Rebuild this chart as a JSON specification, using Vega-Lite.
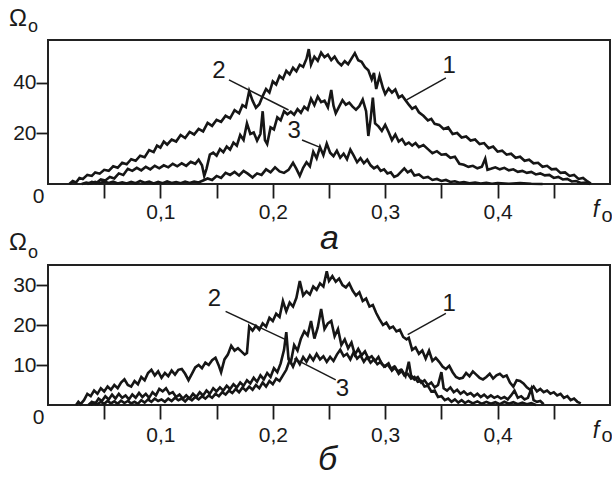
{
"$schema": "https://vega.github.io/schema/vega-lite/v6.json",
"padding": {"left": 8, "top": 6, "right": 0, "bottom": 0},
"spacing": 81,
"bounds": "flush",
"config": {
  "font": "Liberation Sans",
  "view": {"stroke": "#222222", "strokeWidth": 2},
  "axis": {"domain": false, "grid": false, "tickColor": "#1a1a1a", "tickWidth": 1.8, "labelColor": "#1a1a1a", "labelFont": "Liberation Sans", "labelFontSize": 21, "labelOverlap": false, "labelFlush": false, "titleColor": "#1a1a1a", "titleFont": "Liberation Sans"},
  "text": {"font": "Liberation Sans", "color": "#1a1a1a"}
},
"datasets": {
"a": [
{"c":1,"f":0.019,"v":0},{"c":1,"f":0.022,"v":1.2},{"c":1,"f":0.025,"v":0.6},{"c":1,"f":0.028,"v":2.4},{"c":1,"f":0.031,"v":2},{"c":1,"f":0.035,"v":3.6},{"c":1,"f":0.039,"v":3.2},{"c":1,"f":0.042,"v":4.6},{"c":1,"f":0.046,"v":4.1},{"c":1,"f":0.05,"v":5.6},{"c":1,"f":0.054,"v":5.2},{"c":1,"f":0.058,"v":7},{"c":1,"f":0.062,"v":6.4},{"c":1,"f":0.066,"v":8.4},{"c":1,"f":0.07,"v":7.8},{"c":1,"f":0.074,"v":9.8},{"c":1,"f":0.078,"v":9.2},{"c":1,"f":0.082,"v":11.2},{"c":1,"f":0.086,"v":10.6},{"c":1,"f":0.09,"v":13.4},{"c":1,"f":0.094,"v":12.6},{"c":1,"f":0.097,"v":15.2},{"c":1,"f":0.1,"v":14.4},{"c":1,"f":0.103,"v":16.8},{"c":1,"f":0.106,"v":15.6},{"c":1,"f":0.11,"v":17.6},{"c":1,"f":0.114,"v":16.8},{"c":1,"f":0.118,"v":19.4},{"c":1,"f":0.122,"v":18.2},{"c":1,"f":0.126,"v":20.6},{"c":1,"f":0.13,"v":19.6},{"c":1,"f":0.134,"v":21.8},{"c":1,"f":0.138,"v":20.8},{"c":1,"f":0.142,"v":24.2},{"c":1,"f":0.146,"v":23},{"c":1,"f":0.15,"v":25.4},{"c":1,"f":0.154,"v":24.6},{"c":1,"f":0.158,"v":27},{"c":1,"f":0.162,"v":26},{"c":1,"f":0.166,"v":29.2},{"c":1,"f":0.17,"v":28},{"c":1,"f":0.173,"v":31.2},{"c":1,"f":0.176,"v":30.4},{"c":1,"f":0.179,"v":36.8},{"c":1,"f":0.182,"v":33},{"c":1,"f":0.185,"v":30.2},{"c":1,"f":0.188,"v":31.6},{"c":1,"f":0.191,"v":34.8},{"c":1,"f":0.194,"v":37.6},{"c":1,"f":0.197,"v":36.2},{"c":1,"f":0.2,"v":40.6},{"c":1,"f":0.203,"v":39.4},{"c":1,"f":0.206,"v":42.8},{"c":1,"f":0.209,"v":41.6},{"c":1,"f":0.212,"v":44.8},{"c":1,"f":0.215,"v":43.4},{"c":1,"f":0.218,"v":46},{"c":1,"f":0.221,"v":44.6},{"c":1,"f":0.224,"v":47.2},{"c":1,"f":0.227,"v":46.4},{"c":1,"f":0.23,"v":49.6},{"c":1,"f":0.232,"v":53.4},{"c":1,"f":0.234,"v":47.2},{"c":1,"f":0.237,"v":50.4},{"c":1,"f":0.24,"v":48.8},{"c":1,"f":0.243,"v":52},{"c":1,"f":0.246,"v":50.2},{"c":1,"f":0.249,"v":51.2},{"c":1,"f":0.252,"v":49},{"c":1,"f":0.255,"v":50.4},{"c":1,"f":0.258,"v":48.2},{"c":1,"f":0.261,"v":47},{"c":1,"f":0.264,"v":48.6},{"c":1,"f":0.267,"v":47.4},{"c":1,"f":0.27,"v":49.6},{"c":1,"f":0.273,"v":51.8},{"c":1,"f":0.276,"v":49},{"c":1,"f":0.279,"v":48.4},{"c":1,"f":0.282,"v":46.2},{"c":1,"f":0.285,"v":45},{"c":1,"f":0.288,"v":41.4},{"c":1,"f":0.29,"v":44},{"c":1,"f":0.292,"v":37.6},{"c":1,"f":0.295,"v":42.8},{"c":1,"f":0.298,"v":38},{"c":1,"f":0.3,"v":35.6},{"c":1,"f":0.303,"v":37.8},{"c":1,"f":0.306,"v":36.2},{"c":1,"f":0.309,"v":37.4},{"c":1,"f":0.312,"v":34.2},{"c":1,"f":0.315,"v":35},{"c":1,"f":0.318,"v":33.2},{"c":1,"f":0.321,"v":31.4},{"c":1,"f":0.324,"v":29.8},{"c":1,"f":0.327,"v":30.6},{"c":1,"f":0.33,"v":28.4},{"c":1,"f":0.334,"v":27},{"c":1,"f":0.338,"v":25.2},{"c":1,"f":0.341,"v":25.8},{"c":1,"f":0.344,"v":23.8},{"c":1,"f":0.348,"v":23.4},{"c":1,"f":0.352,"v":21.8},{"c":1,"f":0.356,"v":22.4},{"c":1,"f":0.36,"v":19.8},{"c":1,"f":0.364,"v":20.2},{"c":1,"f":0.368,"v":18.4},{"c":1,"f":0.372,"v":18.8},{"c":1,"f":0.376,"v":17.2},{"c":1,"f":0.38,"v":17.6},{"c":1,"f":0.384,"v":15.8},{"c":1,"f":0.388,"v":16.2},{"c":1,"f":0.392,"v":14.2},{"c":1,"f":0.396,"v":14.8},{"c":1,"f":0.4,"v":12.8},{"c":1,"f":0.404,"v":13.2},{"c":1,"f":0.408,"v":11.6},{"c":1,"f":0.412,"v":12},{"c":1,"f":0.416,"v":10.4},{"c":1,"f":0.42,"v":10.8},{"c":1,"f":0.424,"v":9.2},{"c":1,"f":0.428,"v":9.6},{"c":1,"f":0.432,"v":8.2},{"c":1,"f":0.436,"v":8.4},{"c":1,"f":0.44,"v":6.8},{"c":1,"f":0.444,"v":7.2},{"c":1,"f":0.448,"v":5.8},{"c":1,"f":0.452,"v":6},{"c":1,"f":0.456,"v":4.4},{"c":1,"f":0.46,"v":4.6},{"c":1,"f":0.464,"v":3.2},{"c":1,"f":0.468,"v":3.6},{"c":1,"f":0.472,"v":2},{"c":1,"f":0.476,"v":2.4},{"c":1,"f":0.48,"v":1},{"c":1,"f":0.483,"v":0.2},
{"c":2,"f":0.035,"v":0},{"c":2,"f":0.039,"v":0.8},{"c":2,"f":0.043,"v":0.4},{"c":2,"f":0.047,"v":1.8},{"c":2,"f":0.051,"v":1.4},{"c":2,"f":0.055,"v":2.8},{"c":2,"f":0.059,"v":2.2},{"c":2,"f":0.063,"v":4.2},{"c":2,"f":0.067,"v":3.6},{"c":2,"f":0.071,"v":6},{"c":2,"f":0.075,"v":5.2},{"c":2,"f":0.079,"v":6.4},{"c":2,"f":0.083,"v":5.4},{"c":2,"f":0.087,"v":6.8},{"c":2,"f":0.091,"v":5.8},{"c":2,"f":0.095,"v":7.2},{"c":2,"f":0.099,"v":6.2},{"c":2,"f":0.103,"v":7.4},{"c":2,"f":0.107,"v":6.6},{"c":2,"f":0.111,"v":8},{"c":2,"f":0.115,"v":7},{"c":2,"f":0.119,"v":8.2},{"c":2,"f":0.123,"v":7.2},{"c":2,"f":0.127,"v":8.8},{"c":2,"f":0.131,"v":8},{"c":2,"f":0.134,"v":9.6},{"c":2,"f":0.137,"v":7.4},{"c":2,"f":0.139,"v":3.2},{"c":2,"f":0.141,"v":6},{"c":2,"f":0.144,"v":11.6},{"c":2,"f":0.147,"v":12.4},{"c":2,"f":0.15,"v":11.2},{"c":2,"f":0.153,"v":13.8},{"c":2,"f":0.156,"v":12.6},{"c":2,"f":0.159,"v":14.8},{"c":2,"f":0.162,"v":13.6},{"c":2,"f":0.165,"v":16.4},{"c":2,"f":0.168,"v":15.2},{"c":2,"f":0.171,"v":19.4},{"c":2,"f":0.174,"v":17.4},{"c":2,"f":0.177,"v":24},{"c":2,"f":0.18,"v":19.8},{"c":2,"f":0.183,"v":20.4},{"c":2,"f":0.186,"v":17.2},{"c":2,"f":0.189,"v":19.8},{"c":2,"f":0.191,"v":28.8},{"c":2,"f":0.193,"v":17.4},{"c":2,"f":0.195,"v":15.8},{"c":2,"f":0.198,"v":22.4},{"c":2,"f":0.201,"v":21.6},{"c":2,"f":0.204,"v":26.4},{"c":2,"f":0.207,"v":25.2},{"c":2,"f":0.21,"v":28.8},{"c":2,"f":0.213,"v":27.6},{"c":2,"f":0.216,"v":28.6},{"c":2,"f":0.219,"v":27.4},{"c":2,"f":0.222,"v":29.6},{"c":2,"f":0.225,"v":28.2},{"c":2,"f":0.228,"v":30.6},{"c":2,"f":0.231,"v":29.4},{"c":2,"f":0.234,"v":33.8},{"c":2,"f":0.237,"v":31.2},{"c":2,"f":0.24,"v":34.6},{"c":2,"f":0.243,"v":32.4},{"c":2,"f":0.246,"v":33},{"c":2,"f":0.249,"v":30.4},{"c":2,"f":0.252,"v":37.2},{"c":2,"f":0.254,"v":31},{"c":2,"f":0.256,"v":28},{"c":2,"f":0.259,"v":30.6},{"c":2,"f":0.262,"v":33.2},{"c":2,"f":0.265,"v":31.4},{"c":2,"f":0.268,"v":32.2},{"c":2,"f":0.271,"v":30.6},{"c":2,"f":0.274,"v":29.4},{"c":2,"f":0.277,"v":30.8},{"c":2,"f":0.28,"v":33.4},{"c":2,"f":0.283,"v":28.8},{"c":2,"f":0.285,"v":19},{"c":2,"f":0.287,"v":25.6},{"c":2,"f":0.289,"v":34.2},{"c":2,"f":0.291,"v":24},{"c":2,"f":0.294,"v":22.8},{"c":2,"f":0.297,"v":21},{"c":2,"f":0.3,"v":23.4},{"c":2,"f":0.303,"v":20.6},{"c":2,"f":0.306,"v":17.4},{"c":2,"f":0.309,"v":19.6},{"c":2,"f":0.312,"v":16.8},{"c":2,"f":0.315,"v":17.8},{"c":2,"f":0.318,"v":15.6},{"c":2,"f":0.321,"v":16.4},{"c":2,"f":0.324,"v":15.2},{"c":2,"f":0.327,"v":16.2},{"c":2,"f":0.33,"v":14.6},{"c":2,"f":0.334,"v":15.4},{"c":2,"f":0.338,"v":13.8},{"c":2,"f":0.342,"v":12.2},{"c":2,"f":0.346,"v":13},{"c":2,"f":0.35,"v":11.6},{"c":2,"f":0.354,"v":11.8},{"c":2,"f":0.358,"v":10.4},{"c":2,"f":0.362,"v":10.8},{"c":2,"f":0.366,"v":8},{"c":2,"f":0.37,"v":7.6},{"c":2,"f":0.374,"v":6.8},{"c":2,"f":0.378,"v":7.2},{"c":2,"f":0.382,"v":6.2},{"c":2,"f":0.386,"v":6.8},{"c":2,"f":0.389,"v":10},{"c":2,"f":0.391,"v":5.6},{"c":2,"f":0.394,"v":6},{"c":2,"f":0.398,"v":6.6},{"c":2,"f":0.402,"v":5.8},{"c":2,"f":0.406,"v":6.4},{"c":2,"f":0.41,"v":5.4},{"c":2,"f":0.414,"v":5.8},{"c":2,"f":0.418,"v":4.8},{"c":2,"f":0.422,"v":5.2},{"c":2,"f":0.426,"v":4.4},{"c":2,"f":0.43,"v":4.8},{"c":2,"f":0.434,"v":3.8},{"c":2,"f":0.438,"v":4.2},{"c":2,"f":0.442,"v":3.4},{"c":2,"f":0.446,"v":3.6},{"c":2,"f":0.45,"v":2.4},{"c":2,"f":0.454,"v":2.8},{"c":2,"f":0.458,"v":1.8},{"c":2,"f":0.462,"v":2},{"c":2,"f":0.466,"v":1},{"c":2,"f":0.47,"v":1.2},{"c":2,"f":0.474,"v":0.4},{"c":2,"f":0.478,"v":0.6},{"c":2,"f":0.482,"v":0},
{"c":3,"f":0.03,"v":0},{"c":3,"f":0.034,"v":0.6},{"c":3,"f":0.038,"v":0.2},{"c":3,"f":0.042,"v":0.8},{"c":3,"f":0.046,"v":0.3},{"c":3,"f":0.05,"v":1},{"c":3,"f":0.054,"v":0.4},{"c":3,"f":0.058,"v":0.9},{"c":3,"f":0.062,"v":0.2},{"c":3,"f":0.066,"v":0.7},{"c":3,"f":0.07,"v":0.2},{"c":3,"f":0.074,"v":0.8},{"c":3,"f":0.078,"v":0.3},{"c":3,"f":0.082,"v":1.2},{"c":3,"f":0.086,"v":0.5},{"c":3,"f":0.09,"v":0.9},{"c":3,"f":0.094,"v":0.2},{"c":3,"f":0.098,"v":0.8},{"c":3,"f":0.102,"v":0.3},{"c":3,"f":0.106,"v":1},{"c":3,"f":0.11,"v":0.4},{"c":3,"f":0.114,"v":0.8},{"c":3,"f":0.118,"v":0.3},{"c":3,"f":0.122,"v":0.9},{"c":3,"f":0.126,"v":0.4},{"c":3,"f":0.13,"v":1},{"c":3,"f":0.134,"v":0.6},{"c":3,"f":0.138,"v":1.4},{"c":3,"f":0.142,"v":2.2},{"c":3,"f":0.146,"v":1.6},{"c":3,"f":0.15,"v":3.2},{"c":3,"f":0.154,"v":2.4},{"c":3,"f":0.158,"v":4.4},{"c":3,"f":0.162,"v":3.6},{"c":3,"f":0.166,"v":4.8},{"c":3,"f":0.17,"v":3.4},{"c":3,"f":0.174,"v":5.2},{"c":3,"f":0.178,"v":4},{"c":3,"f":0.182,"v":2.6},{"c":3,"f":0.186,"v":4.2},{"c":3,"f":0.19,"v":3.6},{"c":3,"f":0.194,"v":5.8},{"c":3,"f":0.198,"v":4.6},{"c":3,"f":0.202,"v":6.6},{"c":3,"f":0.206,"v":5},{"c":3,"f":0.21,"v":4.4},{"c":3,"f":0.214,"v":5.6},{"c":3,"f":0.218,"v":8.4},{"c":3,"f":0.221,"v":6},{"c":3,"f":0.224,"v":3.2},{"c":3,"f":0.227,"v":6.4},{"c":3,"f":0.23,"v":8.6},{"c":3,"f":0.233,"v":7},{"c":3,"f":0.236,"v":12.8},{"c":3,"f":0.239,"v":10.2},{"c":3,"f":0.242,"v":14.6},{"c":3,"f":0.245,"v":11.4},{"c":3,"f":0.248,"v":16},{"c":3,"f":0.251,"v":12.4},{"c":3,"f":0.254,"v":11},{"c":3,"f":0.257,"v":13.2},{"c":3,"f":0.26,"v":10.4},{"c":3,"f":0.263,"v":12},{"c":3,"f":0.266,"v":9.8},{"c":3,"f":0.269,"v":13.6},{"c":3,"f":0.272,"v":11.2},{"c":3,"f":0.275,"v":8.6},{"c":3,"f":0.278,"v":10.2},{"c":3,"f":0.281,"v":8.2},{"c":3,"f":0.284,"v":9.6},{"c":3,"f":0.287,"v":7.4},{"c":3,"f":0.29,"v":6.2},{"c":3,"f":0.293,"v":7},{"c":3,"f":0.296,"v":5.2},{"c":3,"f":0.299,"v":5.8},{"c":3,"f":0.302,"v":4.2},{"c":3,"f":0.305,"v":4.6},{"c":3,"f":0.308,"v":2.8},{"c":3,"f":0.311,"v":3.4},{"c":3,"f":0.314,"v":4.8},{"c":3,"f":0.317,"v":6.2},{"c":3,"f":0.32,"v":4.6},{"c":3,"f":0.323,"v":5.4},{"c":3,"f":0.326,"v":3.4},{"c":3,"f":0.33,"v":3.8},{"c":3,"f":0.334,"v":2.4},{"c":3,"f":0.338,"v":2.8},{"c":3,"f":0.342,"v":1.6},{"c":3,"f":0.346,"v":2},{"c":3,"f":0.35,"v":1.2},{"c":3,"f":0.354,"v":1.6},{"c":3,"f":0.358,"v":0.8},{"c":3,"f":0.362,"v":1.1},{"c":3,"f":0.366,"v":0.5},{"c":3,"f":0.37,"v":0.8},{"c":3,"f":0.375,"v":0.3},{"c":3,"f":0.38,"v":0.6},{"c":3,"f":0.385,"v":0.2},{"c":3,"f":0.39,"v":0.5},{"c":3,"f":0.395,"v":0.1},{"c":3,"f":0.4,"v":0.4},{"c":3,"f":0.41,"v":0.1},{"c":3,"f":0.42,"v":0.4},{"c":3,"f":0.43,"v":0.1},{"c":3,"f":0.44,"v":0}
],
"b": [
{"c":1,"f":0.025,"v":0},{"c":1,"f":0.027,"v":0.8},{"c":1,"f":0.029,"v":0.2},{"c":1,"f":0.032,"v":1.2},{"c":1,"f":0.035,"v":2.8},{"c":1,"f":0.038,"v":2.2},{"c":1,"f":0.041,"v":3.6},{"c":1,"f":0.044,"v":2.8},{"c":1,"f":0.047,"v":4.2},{"c":1,"f":0.05,"v":3.4},{"c":1,"f":0.053,"v":4.6},{"c":1,"f":0.056,"v":3.8},{"c":1,"f":0.059,"v":5},{"c":1,"f":0.062,"v":4.2},{"c":1,"f":0.065,"v":5.6},{"c":1,"f":0.068,"v":6.4},{"c":1,"f":0.071,"v":5},{"c":1,"f":0.074,"v":4.6},{"c":1,"f":0.077,"v":6},{"c":1,"f":0.08,"v":5.2},{"c":1,"f":0.083,"v":7},{"c":1,"f":0.086,"v":6.2},{"c":1,"f":0.089,"v":8},{"c":1,"f":0.092,"v":8.8},{"c":1,"f":0.095,"v":7.4},{"c":1,"f":0.098,"v":8.4},{"c":1,"f":0.101,"v":6.8},{"c":1,"f":0.104,"v":8},{"c":1,"f":0.107,"v":7.2},{"c":1,"f":0.11,"v":8.6},{"c":1,"f":0.113,"v":7.6},{"c":1,"f":0.116,"v":8.8},{"c":1,"f":0.119,"v":9},{"c":1,"f":0.122,"v":7.8},{"c":1,"f":0.125,"v":6.2},{"c":1,"f":0.128,"v":7.8},{"c":1,"f":0.131,"v":9.4},{"c":1,"f":0.134,"v":10},{"c":1,"f":0.137,"v":9.2},{"c":1,"f":0.14,"v":10.6},{"c":1,"f":0.143,"v":10},{"c":1,"f":0.146,"v":11.2},{"c":1,"f":0.149,"v":11.8},{"c":1,"f":0.152,"v":9.8},{"c":1,"f":0.154,"v":8.2},{"c":1,"f":0.157,"v":11.4},{"c":1,"f":0.16,"v":12.6},{"c":1,"f":0.163,"v":14.8},{"c":1,"f":0.166,"v":13.6},{"c":1,"f":0.169,"v":14.2},{"c":1,"f":0.172,"v":13.4},{"c":1,"f":0.175,"v":12.6},{"c":1,"f":0.177,"v":13},{"c":1,"f":0.179,"v":19.6},{"c":1,"f":0.182,"v":18.6},{"c":1,"f":0.185,"v":19.8},{"c":1,"f":0.188,"v":18.8},{"c":1,"f":0.191,"v":20.4},{"c":1,"f":0.194,"v":19.6},{"c":1,"f":0.197,"v":21.8},{"c":1,"f":0.2,"v":21},{"c":1,"f":0.203,"v":22.8},{"c":1,"f":0.206,"v":22},{"c":1,"f":0.209,"v":26},{"c":1,"f":0.212,"v":23.4},{"c":1,"f":0.215,"v":25.6},{"c":1,"f":0.218,"v":24.6},{"c":1,"f":0.221,"v":26.8},{"c":1,"f":0.224,"v":31},{"c":1,"f":0.227,"v":27.4},{"c":1,"f":0.23,"v":28.4},{"c":1,"f":0.233,"v":27.6},{"c":1,"f":0.236,"v":29.6},{"c":1,"f":0.239,"v":28.8},{"c":1,"f":0.242,"v":30.4},{"c":1,"f":0.245,"v":29.6},{"c":1,"f":0.248,"v":33.4},{"c":1,"f":0.25,"v":31},{"c":1,"f":0.253,"v":32.2},{"c":1,"f":0.256,"v":30.8},{"c":1,"f":0.259,"v":31.6},{"c":1,"f":0.262,"v":30},{"c":1,"f":0.265,"v":29.4},{"c":1,"f":0.268,"v":30.4},{"c":1,"f":0.271,"v":28.6},{"c":1,"f":0.274,"v":27.4},{"c":1,"f":0.277,"v":28.2},{"c":1,"f":0.28,"v":26},{"c":1,"f":0.283,"v":26.6},{"c":1,"f":0.286,"v":24.6},{"c":1,"f":0.289,"v":25},{"c":1,"f":0.292,"v":23},{"c":1,"f":0.295,"v":21.4},{"c":1,"f":0.298,"v":20},{"c":1,"f":0.301,"v":20.6},{"c":1,"f":0.304,"v":19.2},{"c":1,"f":0.307,"v":19.6},{"c":1,"f":0.31,"v":18.4},{"c":1,"f":0.313,"v":18.8},{"c":1,"f":0.316,"v":17},{"c":1,"f":0.319,"v":16.4},{"c":1,"f":0.321,"v":16.8},{"c":1,"f":0.324,"v":13.8},{"c":1,"f":0.327,"v":14.4},{"c":1,"f":0.33,"v":12.8},{"c":1,"f":0.333,"v":13.6},{"c":1,"f":0.336,"v":11.6},{"c":1,"f":0.339,"v":13.6},{"c":1,"f":0.342,"v":11},{"c":1,"f":0.345,"v":11.8},{"c":1,"f":0.348,"v":10.8},{"c":1,"f":0.351,"v":9.6},{"c":1,"f":0.354,"v":9},{"c":1,"f":0.357,"v":9.8},{"c":1,"f":0.36,"v":8.2},{"c":1,"f":0.363,"v":7},{"c":1,"f":0.366,"v":6.6},{"c":1,"f":0.369,"v":6.8},{"c":1,"f":0.372,"v":8},{"c":1,"f":0.375,"v":7.2},{"c":1,"f":0.378,"v":8.4},{"c":1,"f":0.381,"v":7.6},{"c":1,"f":0.384,"v":6.8},{"c":1,"f":0.387,"v":6.4},{"c":1,"f":0.39,"v":7},{"c":1,"f":0.393,"v":7.8},{"c":1,"f":0.396,"v":6.6},{"c":1,"f":0.399,"v":7.4},{"c":1,"f":0.402,"v":7.8},{"c":1,"f":0.405,"v":7},{"c":1,"f":0.408,"v":7.4},{"c":1,"f":0.411,"v":5.6},{"c":1,"f":0.414,"v":4.6},{"c":1,"f":0.417,"v":6.2},{"c":1,"f":0.42,"v":6},{"c":1,"f":0.423,"v":5.4},{"c":1,"f":0.426,"v":4.4},{"c":1,"f":0.429,"v":3.8},{"c":1,"f":0.432,"v":4.6},{"c":1,"f":0.435,"v":3.4},{"c":1,"f":0.438,"v":4},{"c":1,"f":0.441,"v":3.2},{"c":1,"f":0.444,"v":3.6},{"c":1,"f":0.447,"v":2.8},{"c":1,"f":0.45,"v":3.2},{"c":1,"f":0.453,"v":2.4},{"c":1,"f":0.456,"v":2.8},{"c":1,"f":0.459,"v":1.8},{"c":1,"f":0.462,"v":2.2},{"c":1,"f":0.465,"v":1.2},{"c":1,"f":0.468,"v":1.6},{"c":1,"f":0.471,"v":0.8},{"c":1,"f":0.474,"v":0.4},
{"c":2,"f":0.036,"v":0},{"c":2,"f":0.039,"v":0.8},{"c":2,"f":0.042,"v":0.3},{"c":2,"f":0.045,"v":1.6},{"c":2,"f":0.048,"v":1},{"c":2,"f":0.051,"v":2.2},{"c":2,"f":0.054,"v":1.4},{"c":2,"f":0.057,"v":2.6},{"c":2,"f":0.06,"v":1.6},{"c":2,"f":0.063,"v":2.8},{"c":2,"f":0.066,"v":1.8},{"c":2,"f":0.069,"v":2.4},{"c":2,"f":0.072,"v":1.4},{"c":2,"f":0.075,"v":2.6},{"c":2,"f":0.078,"v":1.8},{"c":2,"f":0.081,"v":3},{"c":2,"f":0.084,"v":2},{"c":2,"f":0.087,"v":2.8},{"c":2,"f":0.09,"v":1.8},{"c":2,"f":0.093,"v":3.2},{"c":2,"f":0.096,"v":2.4},{"c":2,"f":0.099,"v":4},{"c":2,"f":0.102,"v":3.4},{"c":2,"f":0.105,"v":4.2},{"c":2,"f":0.108,"v":2.8},{"c":2,"f":0.111,"v":3.2},{"c":2,"f":0.114,"v":2},{"c":2,"f":0.117,"v":2.6},{"c":2,"f":0.12,"v":1.6},{"c":2,"f":0.123,"v":2.4},{"c":2,"f":0.126,"v":1.6},{"c":2,"f":0.129,"v":2.8},{"c":2,"f":0.132,"v":2},{"c":2,"f":0.135,"v":3.2},{"c":2,"f":0.138,"v":2.4},{"c":2,"f":0.141,"v":3.6},{"c":2,"f":0.144,"v":2.8},{"c":2,"f":0.147,"v":4.2},{"c":2,"f":0.15,"v":3.4},{"c":2,"f":0.153,"v":4.4},{"c":2,"f":0.156,"v":3.6},{"c":2,"f":0.159,"v":4.8},{"c":2,"f":0.162,"v":4},{"c":2,"f":0.165,"v":5.2},{"c":2,"f":0.168,"v":4.4},{"c":2,"f":0.171,"v":5.6},{"c":2,"f":0.174,"v":4.8},{"c":2,"f":0.177,"v":6.2},{"c":2,"f":0.18,"v":5.4},{"c":2,"f":0.183,"v":6.8},{"c":2,"f":0.186,"v":5.8},{"c":2,"f":0.189,"v":7.4},{"c":2,"f":0.192,"v":6.4},{"c":2,"f":0.195,"v":8},{"c":2,"f":0.198,"v":7},{"c":2,"f":0.201,"v":9.2},{"c":2,"f":0.204,"v":8.2},{"c":2,"f":0.207,"v":10.4},{"c":2,"f":0.21,"v":13.8},{"c":2,"f":0.212,"v":18.2},{"c":2,"f":0.214,"v":11.4},{"c":2,"f":0.216,"v":10.6},{"c":2,"f":0.219,"v":15},{"c":2,"f":0.222,"v":13.6},{"c":2,"f":0.225,"v":16.6},{"c":2,"f":0.228,"v":18.4},{"c":2,"f":0.231,"v":17.4},{"c":2,"f":0.234,"v":21},{"c":2,"f":0.237,"v":16.6},{"c":2,"f":0.24,"v":19.4},{"c":2,"f":0.243,"v":24},{"c":2,"f":0.246,"v":19},{"c":2,"f":0.249,"v":20.4},{"c":2,"f":0.252,"v":21},{"c":2,"f":0.255,"v":17.2},{"c":2,"f":0.258,"v":19},{"c":2,"f":0.261,"v":15},{"c":2,"f":0.264,"v":16.4},{"c":2,"f":0.267,"v":14.2},{"c":2,"f":0.27,"v":15.6},{"c":2,"f":0.273,"v":12.6},{"c":2,"f":0.276,"v":14},{"c":2,"f":0.279,"v":12.4},{"c":2,"f":0.282,"v":13.4},{"c":2,"f":0.285,"v":11.6},{"c":2,"f":0.288,"v":12.2},{"c":2,"f":0.291,"v":11},{"c":2,"f":0.294,"v":12},{"c":2,"f":0.297,"v":10.2},{"c":2,"f":0.3,"v":9.6},{"c":2,"f":0.303,"v":10.4},{"c":2,"f":0.306,"v":8.6},{"c":2,"f":0.309,"v":9.4},{"c":2,"f":0.312,"v":7.8},{"c":2,"f":0.315,"v":8.6},{"c":2,"f":0.318,"v":7.2},{"c":2,"f":0.321,"v":10.8},{"c":2,"f":0.323,"v":7.4},{"c":2,"f":0.326,"v":6.4},{"c":2,"f":0.329,"v":7},{"c":2,"f":0.332,"v":5.6},{"c":2,"f":0.335,"v":6.2},{"c":2,"f":0.338,"v":5},{"c":2,"f":0.341,"v":5.6},{"c":2,"f":0.344,"v":4.4},{"c":2,"f":0.347,"v":5},{"c":2,"f":0.35,"v":8.2},{"c":2,"f":0.352,"v":4.2},{"c":2,"f":0.355,"v":3.6},{"c":2,"f":0.358,"v":4.4},{"c":2,"f":0.361,"v":3.2},{"c":2,"f":0.364,"v":3.8},{"c":2,"f":0.367,"v":2.8},{"c":2,"f":0.37,"v":3.4},{"c":2,"f":0.373,"v":2.6},{"c":2,"f":0.376,"v":3},{"c":2,"f":0.379,"v":2.2},{"c":2,"f":0.382,"v":2.8},{"c":2,"f":0.385,"v":2},{"c":2,"f":0.388,"v":2.6},{"c":2,"f":0.391,"v":1.8},{"c":2,"f":0.394,"v":2.4},{"c":2,"f":0.397,"v":1.8},{"c":2,"f":0.4,"v":2.2},{"c":2,"f":0.403,"v":1.6},{"c":2,"f":0.406,"v":2},{"c":2,"f":0.409,"v":1.4},{"c":2,"f":0.412,"v":2.4},{"c":2,"f":0.415,"v":3.6},{"c":2,"f":0.418,"v":1.8},{"c":2,"f":0.421,"v":2.2},{"c":2,"f":0.424,"v":1.4},{"c":2,"f":0.427,"v":1.8},{"c":2,"f":0.43,"v":4},{"c":2,"f":0.432,"v":1.2},{"c":2,"f":0.435,"v":0.8},{"c":2,"f":0.438,"v":1},{"c":2,"f":0.441,"v":0.2},
{"c":3,"f":0.038,"v":0},{"c":3,"f":0.041,"v":0.6},{"c":3,"f":0.044,"v":0.2},{"c":3,"f":0.047,"v":0.8},{"c":3,"f":0.05,"v":0.3},{"c":3,"f":0.053,"v":1},{"c":3,"f":0.056,"v":0.4},{"c":3,"f":0.059,"v":0.9},{"c":3,"f":0.062,"v":0.3},{"c":3,"f":0.065,"v":1.1},{"c":3,"f":0.068,"v":0.5},{"c":3,"f":0.071,"v":1},{"c":3,"f":0.074,"v":0.4},{"c":3,"f":0.077,"v":0.8},{"c":3,"f":0.08,"v":0.3},{"c":3,"f":0.083,"v":1.2},{"c":3,"f":0.086,"v":0.6},{"c":3,"f":0.089,"v":1.4},{"c":3,"f":0.092,"v":0.8},{"c":3,"f":0.095,"v":1.6},{"c":3,"f":0.098,"v":1},{"c":3,"f":0.101,"v":1.4},{"c":3,"f":0.104,"v":0.8},{"c":3,"f":0.107,"v":1.6},{"c":3,"f":0.11,"v":1},{"c":3,"f":0.113,"v":1.8},{"c":3,"f":0.116,"v":1.2},{"c":3,"f":0.119,"v":1.6},{"c":3,"f":0.122,"v":0.9},{"c":3,"f":0.125,"v":1.8},{"c":3,"f":0.128,"v":1.2},{"c":3,"f":0.131,"v":2},{"c":3,"f":0.134,"v":1.4},{"c":3,"f":0.137,"v":2.2},{"c":3,"f":0.14,"v":1.6},{"c":3,"f":0.143,"v":2.4},{"c":3,"f":0.146,"v":1.8},{"c":3,"f":0.149,"v":2.8},{"c":3,"f":0.152,"v":2.2},{"c":3,"f":0.155,"v":3.2},{"c":3,"f":0.158,"v":2.6},{"c":3,"f":0.161,"v":3.6},{"c":3,"f":0.164,"v":3},{"c":3,"f":0.167,"v":4},{"c":3,"f":0.17,"v":3.2},{"c":3,"f":0.173,"v":4.4},{"c":3,"f":0.176,"v":3.6},{"c":3,"f":0.179,"v":4.6},{"c":3,"f":0.182,"v":3.8},{"c":3,"f":0.185,"v":5},{"c":3,"f":0.188,"v":4.2},{"c":3,"f":0.191,"v":5.6},{"c":3,"f":0.194,"v":4.6},{"c":3,"f":0.197,"v":6},{"c":3,"f":0.2,"v":5.2},{"c":3,"f":0.203,"v":6.6},{"c":3,"f":0.206,"v":6},{"c":3,"f":0.209,"v":7.4},{"c":3,"f":0.212,"v":8.8},{"c":3,"f":0.215,"v":11.2},{"c":3,"f":0.218,"v":9.6},{"c":3,"f":0.221,"v":11.6},{"c":3,"f":0.224,"v":10.2},{"c":3,"f":0.227,"v":12},{"c":3,"f":0.23,"v":10.8},{"c":3,"f":0.233,"v":12.4},{"c":3,"f":0.236,"v":11.2},{"c":3,"f":0.239,"v":12.8},{"c":3,"f":0.242,"v":11.4},{"c":3,"f":0.245,"v":12.2},{"c":3,"f":0.248,"v":10.8},{"c":3,"f":0.251,"v":12},{"c":3,"f":0.254,"v":11},{"c":3,"f":0.257,"v":12.6},{"c":3,"f":0.26,"v":13.8},{"c":3,"f":0.263,"v":12.2},{"c":3,"f":0.266,"v":12.8},{"c":3,"f":0.269,"v":11.4},{"c":3,"f":0.272,"v":13.2},{"c":3,"f":0.275,"v":11.6},{"c":3,"f":0.278,"v":12.4},{"c":3,"f":0.281,"v":10.8},{"c":3,"f":0.284,"v":12},{"c":3,"f":0.287,"v":10.6},{"c":3,"f":0.29,"v":11.4},{"c":3,"f":0.293,"v":10.2},{"c":3,"f":0.296,"v":10.8},{"c":3,"f":0.299,"v":9.6},{"c":3,"f":0.302,"v":10.2},{"c":3,"f":0.305,"v":9},{"c":3,"f":0.308,"v":9.6},{"c":3,"f":0.311,"v":8.4},{"c":3,"f":0.314,"v":8.8},{"c":3,"f":0.317,"v":7.4},{"c":3,"f":0.32,"v":7.8},{"c":3,"f":0.323,"v":6.6},{"c":3,"f":0.326,"v":7},{"c":3,"f":0.329,"v":5.8},{"c":3,"f":0.332,"v":6},{"c":3,"f":0.335,"v":4.6},{"c":3,"f":0.338,"v":4.8},{"c":3,"f":0.341,"v":3.4},{"c":3,"f":0.344,"v":3.6},{"c":3,"f":0.347,"v":2},{"c":3,"f":0.35,"v":2.2},{"c":3,"f":0.353,"v":1.2},{"c":3,"f":0.356,"v":1.6},{"c":3,"f":0.359,"v":0.8},{"c":3,"f":0.362,"v":1.4},{"c":3,"f":0.365,"v":0.6},{"c":3,"f":0.368,"v":1.2},{"c":3,"f":0.371,"v":0.5},{"c":3,"f":0.374,"v":1},{"c":3,"f":0.378,"v":0.4},{"c":3,"f":0.382,"v":0.9},{"c":3,"f":0.386,"v":0.3},{"c":3,"f":0.39,"v":0.8},{"c":3,"f":0.394,"v":0.3},{"c":3,"f":0.398,"v":0.7},{"c":3,"f":0.402,"v":0.2},{"c":3,"f":0.406,"v":0.8},{"c":3,"f":0.41,"v":0.3},{"c":3,"f":0.414,"v":0.7},{"c":3,"f":0.418,"v":0.2},{"c":3,"f":0.422,"v":0.6},{"c":3,"f":0.426,"v":0.2},{"c":3,"f":0.43,"v":0.5},{"c":3,"f":0.434,"v":0}
],
"leadA": [{"f":0.161,"v":41.2,"f2":0.214,"v2":29.3},{"f":0.226,"v":17.4,"f2":0.241,"v2":14.7},{"f":0.354,"v":42,"f2":0.319,"v2":33.3}],
"labA": [{"t":"1","f":0.357,"v":46.7},{"t":"2","f":0.152,"v":44.8},{"t":"3","f":0.219,"v":21}],
"leadB": [{"f":0.158,"v":23.4,"f2":0.211,"v2":16.4},{"f":0.256,"v":6.3,"f2":0.219,"v2":11.6},{"f":0.354,"v":22.9,"f2":0.32,"v2":17.6}],
"labB": [{"t":"1","f":0.357,"v":25.2},{"t":"2","f":0.148,"v":26.4},{"t":"3","f":0.262,"v":3.9}]
},
"vconcat": [
{
 "width": 562, "height": 144,
 "layer": [
  {"data": {"name": "a"}, "mark": {"type": "line", "color": "#161616", "strokeWidth": 2.6},
   "encoding": {
    "x": {"field": "f", "type": "quantitative", "scale": {"domain": [0, 0.5], "nice": false, "zero": false},
      "axis": {"values": [0.05,0.1,0.15,0.2,0.25,0.3,0.35,0.4,0.45], "labelExpr": "round(datum.value*20)%2==0 ? replace(format(datum.value,'.1f'),'.',',') : ''", "tickSize": 14, "labelPadding": 3, "title": "а", "titleFontStyle": "italic", "titleFontWeight": "normal", "titleFontSize": 34, "titleX": 281, "titleY": 64, "titleBaseline": "alphabetic", "titleAlign": "center"}},
    "y": {"field": "v", "type": "quantitative", "scale": {"domain": [0, 57], "nice": false},
      "axis": {"values": [0,10,20,30,40,50], "labelExpr": "datum.value%20==0 ? datum.label : ''", "title": null, "tickSize": 12,
        "labelPadding": {"condition": {"test": "datum.value===0", "value": -8}, "value": 0},
        "labelOffset": {"condition": {"test": "datum.value===0", "value": 12}, "value": 0},
        "tickOpacity": {"condition": {"test": "datum.value===0", "value": 0}, "value": 1}}},
    "detail": {"field": "c"}
   }},
  {"data": {"name": "leadA"}, "mark": {"type": "rule", "color": "#1a1a1a", "strokeWidth": 1.5},
   "encoding": {"x": {"field": "f", "type": "quantitative"}, "y": {"field": "v", "type": "quantitative"}, "x2": {"field": "f2"}, "y2": {"field": "v2"}}},
  {"data": {"name": "labA"}, "mark": {"type": "text", "fontSize": 24, "align": "center", "baseline": "middle"},
   "encoding": {"x": {"field": "f", "type": "quantitative"}, "y": {"field": "v", "type": "quantitative"}, "text": {"field": "t"}}},
  {"data": {"values": [{"f": 0.5, "v": 0, "t": "f"}]}, "mark": {"type": "text", "fontSize": 23, "fontStyle": "italic", "align": "center", "baseline": "alphabetic", "dx": -14, "dy": 33},
   "encoding": {"x": {"field": "f", "type": "quantitative"}, "y": {"field": "v", "type": "quantitative"}, "text": {"field": "t"}}},
  {"data": {"values": [{"f": 0.5, "v": 0, "t": "o"}]}, "mark": {"type": "text", "fontSize": 20, "align": "center", "baseline": "alphabetic", "dx": -3, "dy": 38},
   "encoding": {"x": {"field": "f", "type": "quantitative"}, "y": {"field": "v", "type": "quantitative"}, "text": {"field": "t"}}},
  {"data": {"values": [{"f": 0, "v": 57, "t": "Ω"}]}, "mark": {"type": "text", "fontSize": 24, "align": "center", "baseline": "alphabetic", "dx": -30, "dy": -14},
   "encoding": {"x": {"field": "f", "type": "quantitative"}, "y": {"field": "v", "type": "quantitative"}, "text": {"field": "t"}}},
  {"data": {"values": [{"f": 0, "v": 57, "t": "o"}]}, "mark": {"type": "text", "fontSize": 18, "align": "center", "baseline": "alphabetic", "dx": -15, "dy": -8},
   "encoding": {"x": {"field": "f", "type": "quantitative"}, "y": {"field": "v", "type": "quantitative"}, "text": {"field": "t"}}}
 ]
},
{
 "width": 562, "height": 140,
 "layer": [
  {"data": {"name": "b"}, "mark": {"type": "line", "color": "#161616", "strokeWidth": 2.6},
   "encoding": {
    "x": {"field": "f", "type": "quantitative", "scale": {"domain": [0, 0.5], "nice": false, "zero": false},
      "axis": {"values": [0.05,0.1,0.15,0.2,0.25,0.3,0.35,0.4,0.45], "labelExpr": "round(datum.value*20)%2==0 ? replace(format(datum.value,'.1f'),'.',',') : ''", "tickSize": 14, "labelPadding": 5, "title": "б", "titleFontStyle": "italic", "titleFontWeight": "normal", "titleFontSize": 34, "titleX": 279, "titleY": 64, "titleBaseline": "alphabetic", "titleAlign": "center"}},
    "y": {"field": "v", "type": "quantitative", "scale": {"domain": [0, 35], "nice": false},
      "axis": {"values": [0,5,10,15,20,25,30,35], "labelExpr": "datum.value%10==0 ? datum.label : ''", "title": null, "tickSize": 12,
        "labelPadding": {"condition": {"test": "datum.value===0", "value": -8}, "value": 0},
        "labelOffset": {"condition": {"test": "datum.value===0", "value": 12}, "value": 0},
        "tickOpacity": {"condition": {"test": "datum.value===0", "value": 0}, "value": 1}}},
    "detail": {"field": "c"}
   }},
  {"data": {"name": "leadB"}, "mark": {"type": "rule", "color": "#1a1a1a", "strokeWidth": 1.5},
   "encoding": {"x": {"field": "f", "type": "quantitative"}, "y": {"field": "v", "type": "quantitative"}, "x2": {"field": "f2"}, "y2": {"field": "v2"}}},
  {"data": {"name": "labB"}, "mark": {"type": "text", "fontSize": 24, "align": "center", "baseline": "middle"},
   "encoding": {"x": {"field": "f", "type": "quantitative"}, "y": {"field": "v", "type": "quantitative"}, "text": {"field": "t"}}},
  {"data": {"values": [{"f": 0.5, "v": 0, "t": "f"}]}, "mark": {"type": "text", "fontSize": 23, "fontStyle": "italic", "align": "center", "baseline": "alphabetic", "dx": -14, "dy": 33},
   "encoding": {"x": {"field": "f", "type": "quantitative"}, "y": {"field": "v", "type": "quantitative"}, "text": {"field": "t"}}},
  {"data": {"values": [{"f": 0.5, "v": 0, "t": "o"}]}, "mark": {"type": "text", "fontSize": 20, "align": "center", "baseline": "alphabetic", "dx": -3, "dy": 37},
   "encoding": {"x": {"field": "f", "type": "quantitative"}, "y": {"field": "v", "type": "quantitative"}, "text": {"field": "t"}}},
  {"data": {"values": [{"f": 0, "v": 35, "t": "Ω"}]}, "mark": {"type": "text", "fontSize": 24, "align": "center", "baseline": "alphabetic", "dx": -30, "dy": -15},
   "encoding": {"x": {"field": "f", "type": "quantitative"}, "y": {"field": "v", "type": "quantitative"}, "text": {"field": "t"}}},
  {"data": {"values": [{"f": 0, "v": 35, "t": "o"}]}, "mark": {"type": "text", "fontSize": 18, "align": "center", "baseline": "alphabetic", "dx": -15, "dy": -7},
   "encoding": {"x": {"field": "f", "type": "quantitative"}, "y": {"field": "v", "type": "quantitative"}, "text": {"field": "t"}}}
 ]
}
]
}
